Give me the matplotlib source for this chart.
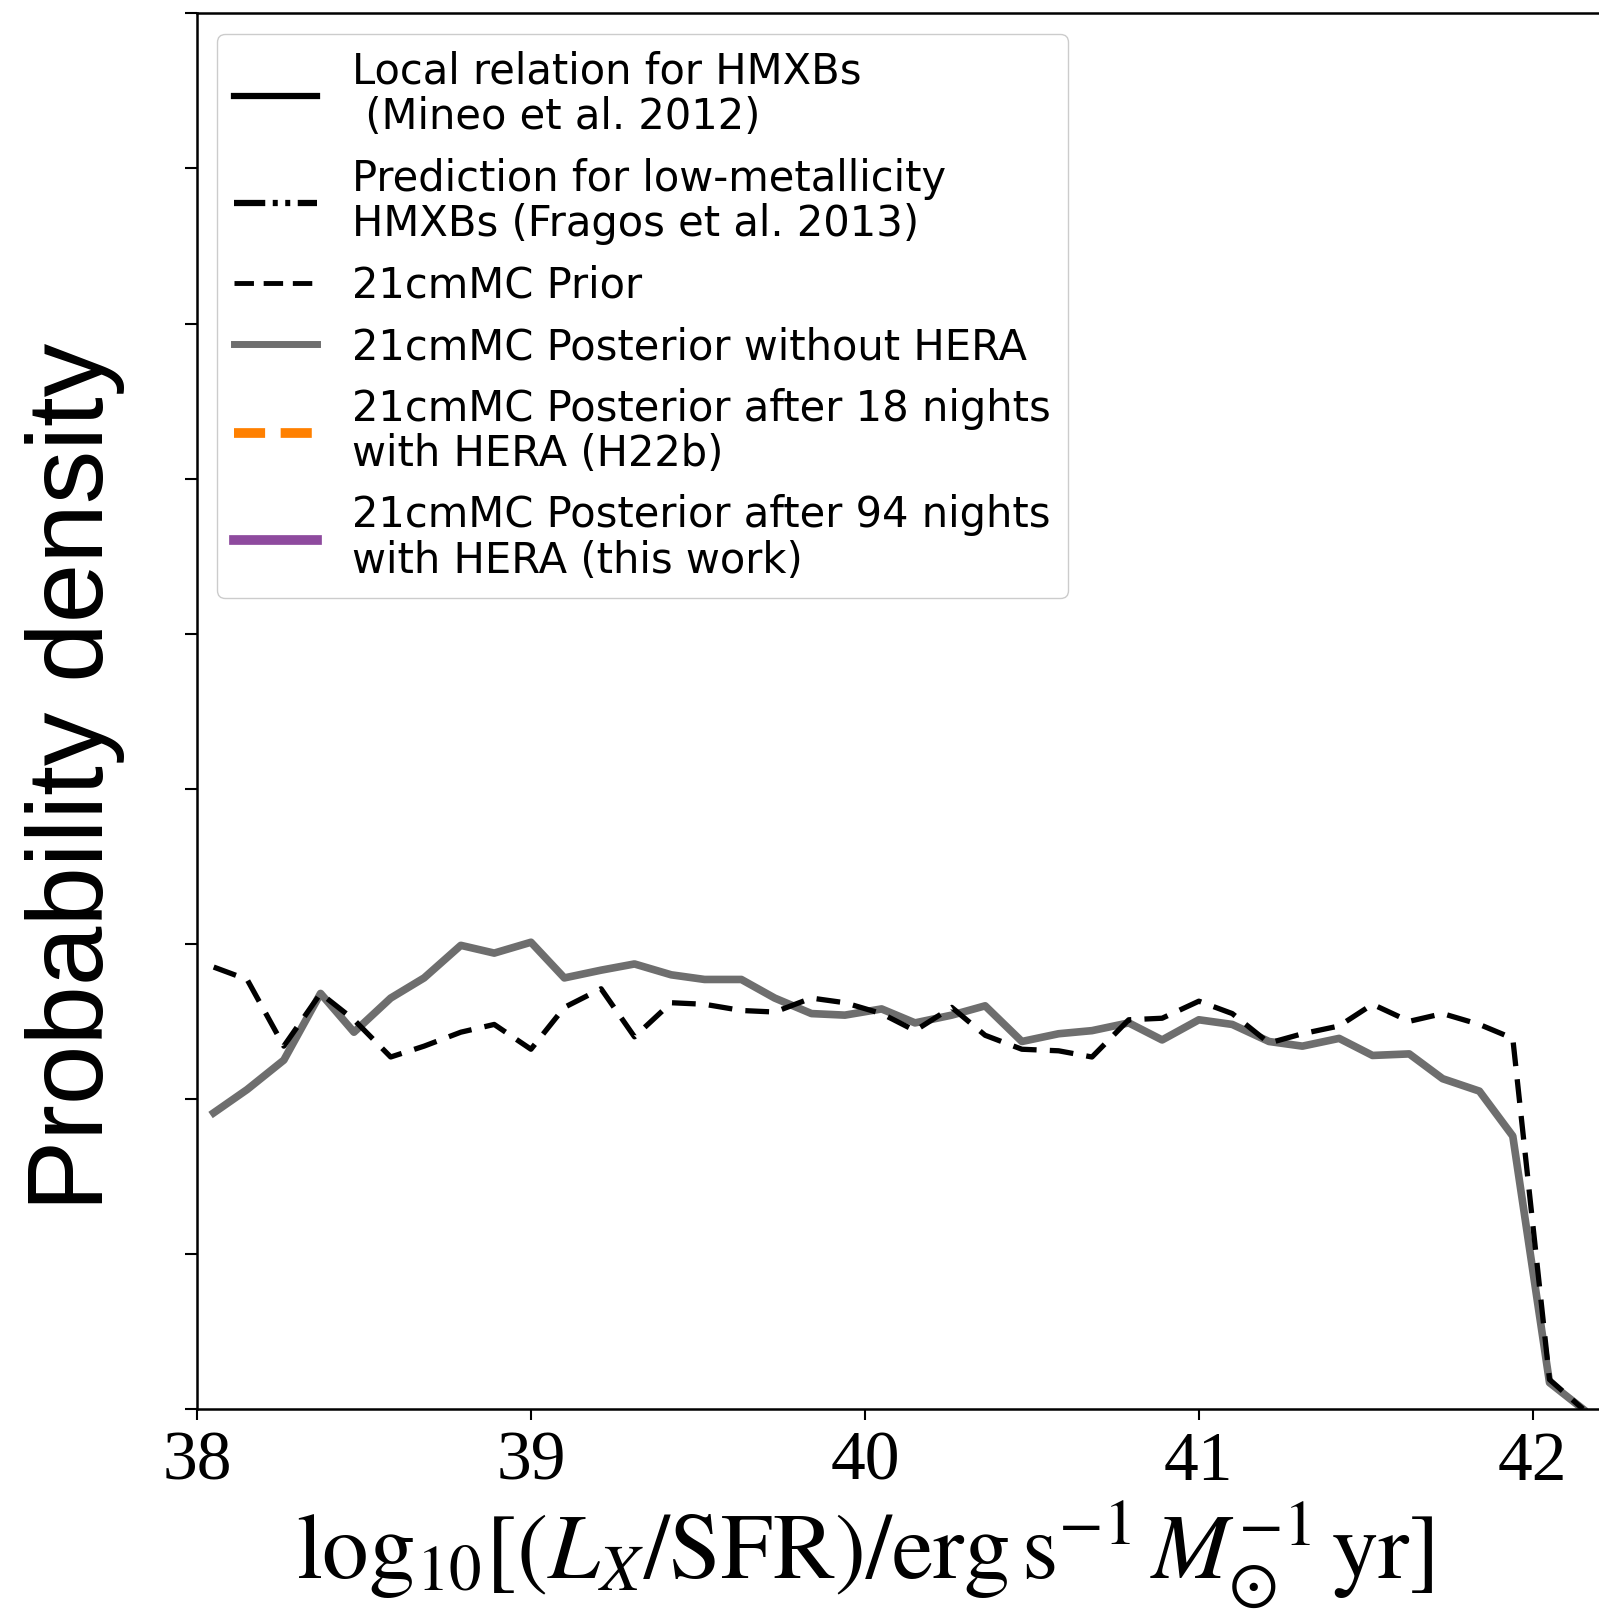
import numpy as np
import matplotlib
matplotlib.use("Agg")
import matplotlib.pyplot as plt
from matplotlib.lines import Line2D

# bin centres of log10(Lx/SFR)
lx_bins = [38.05, 38.15, 38.26, 38.37, 38.47, 38.58, 38.68, 38.79, 38.89, 39.00,
           39.10, 39.21, 39.31, 39.42, 39.52, 39.63, 39.73, 39.84, 39.94, 40.05,
           40.15, 40.26, 40.36, 40.47, 40.58, 40.68, 40.79, 40.89, 41.00, 41.10,
           41.21, 41.31, 41.42, 41.52, 41.63, 41.73, 41.84, 41.94, 42.05, 42.15]

prior_pdf = [0.285, 0.277, 0.234, 0.268, 0.251, 0.227, 0.234, 0.243, 0.248, 0.232,
             0.259, 0.271, 0.240, 0.262, 0.261, 0.257, 0.256, 0.265, 0.262, 0.255,
             0.244, 0.259, 0.241, 0.232, 0.231, 0.227, 0.251, 0.252, 0.263, 0.255,
             0.236, 0.242, 0.247, 0.261, 0.250, 0.255, 0.248, 0.239, 0.019, 0.0]

post_nohera_pdf = [0.191, 0.206, 0.225, 0.268, 0.243, 0.265, 0.278, 0.299, 0.294, 0.301,
                   0.278, 0.283, 0.287, 0.280, 0.277, 0.277, 0.265, 0.255, 0.254, 0.258,
                   0.249, 0.254, 0.260, 0.237, 0.242, 0.244, 0.249, 0.238, 0.251, 0.248,
                   0.237, 0.234, 0.239, 0.228, 0.229, 0.213, 0.205, 0.176, 0.017, 0.0]

xticks = [38, 39, 40, 41, 42]
yticks = [0.0, 0.1, 0.2, 0.3, 0.4, 0.5, 0.6, 0.7, 0.8, 0.9]

labels = ["Local relation for HMXBs\n (Mineo et al. 2012)",
          "Prediction for low-metallicity\nHMXBs (Fragos et al. 2013)",
          "21cmMC Prior",
          "21cmMC Posterior without HERA",
          "21cmMC Posterior after 18 nights\nwith HERA (H22b)",
          "21cmMC Posterior after 94 nights\nwith HERA (this work)"]

plt.rcParams['mathtext.fontset'] = 'stix'

W, H = 1599, 1613
fig = plt.figure(figsize=(W / 100, H / 100), dpi=100)
ax = fig.add_axes([197 / W, 1 - 1409 / H, (1633 - 197) / W, (1409 - 13.4) / H])

ax.plot(lx_bins, post_nohera_pdf, color='#6e6e6e', lw=5.5, zorder=2)
ax.plot(lx_bins, prior_pdf, color='black', lw=3.8, ls=(0, (4.5, 2.5)), zorder=3)

ax.set_xlim(38, 42.3)
ax.set_ylim(0, 0.9)
ax.set_xticks(xticks)
ax.set_xticklabels([str(t) for t in xticks], family='Liberation Serif', fontsize=50)
ax.set_yticks(yticks)
ax.set_yticklabels([])
ax.tick_params(axis='x', direction='out', length=8, width=1.5, pad=8)
ax.tick_params(axis='y', direction='out', length=9, width=1.5)
for side in ['left', 'bottom', 'top', 'right']:
    ax.spines[side].set_linewidth(1.8)

# legend handles
handles = [
    Line2D([], [], color='black', lw=4.5),
    Line2D([], [], color='black', lw=4.5, ls=(0, (5, 1.2, 0.8, 1.2, 0.8, 1.2))),
    Line2D([], [], color='black', lw=3.5, ls=(0, (4, 2))),
    Line2D([], [], color='#6e6e6e', lw=5),
    Line2D([], [], color='#ff8000', lw=7, ls=(0, (3.2, 1.6))),
    Line2D([], [], color='#8e4a9e', lw=7),
]
leg = fig.legend(handles, labels, loc='upper left', bbox_to_anchor=(217 / W, 1 - 34 / H),
                 borderaxespad=0, fontsize=30, handlelength=2.0, handletextpad=0.85,
                 labelspacing=0.47, borderpad=0.4, framealpha=1, edgecolor='#cccccc',
                 fancybox=True)
for t in leg.get_texts():
    t.set_linespacing(1.1)

fig.text(103 / W, 1 - 777 / H, 'Probability density', rotation=90, rotation_mode='anchor',
         ha='center', va='baseline', fontsize=77, family='Liberation Sans')
fig.text(865 / W, 1 - 1578 / H,
         r'$\mathrm{log}_{10}[(L_X/\mathrm{SFR})/\mathrm{erg\,s^{-1}}\,M_{\odot}^{-1}\,\mathrm{yr}]$',
         ha='center', va='baseline', fontsize=67)

fig.savefig('out.png', dpi=100)
